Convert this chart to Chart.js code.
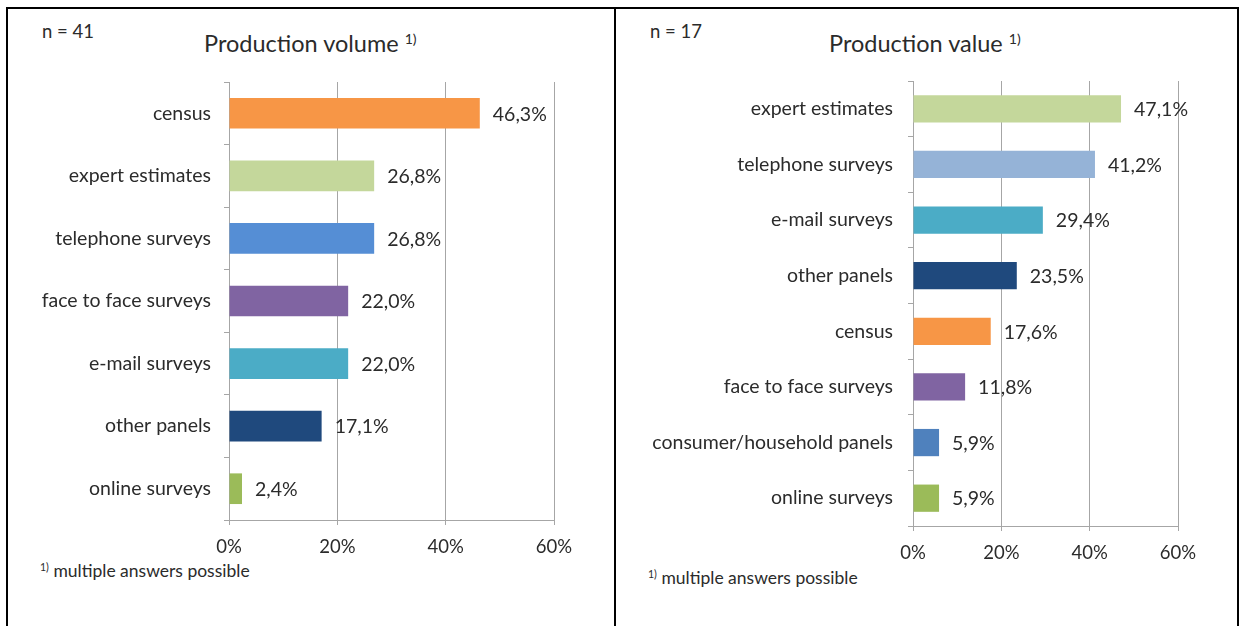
<!DOCTYPE html>
<html>
<head>
<meta charset="utf-8">
<script src="https://cdn.jsdelivr.net/npm/chart.js@4.4.1/dist/chart.umd.min.js"></script>
<style>
  html, body { margin: 0; padding: 0; background: #fff; }
  body { width: 1240px; height: 626px; position: relative; overflow: hidden; font-family: Lato, "Open Sans", sans-serif; color: #2b2b2b; }
  .line { position: absolute; background: #000; }
  .txt { position: absolute; white-space: nowrap; line-height: 1; }
  .txt sup { font-size: 0.6em; vertical-align: 0; position: relative; top: -0.55em; }
  .cw { position: absolute; }
</style>
</head>
<body>
<!-- frame -->
<div class="line" style="left:6px; top:7px; width:1233px; height:2px;"></div>
<div class="line" style="left:6px; top:7px; width:2px; height:619px;"></div>
<div class="line" style="left:614px; top:7px; width:2px; height:619px;"></div>
<div class="line" style="left:1237px; top:7px; width:2px; height:619px;"></div>

<div class="txt" id="nLeft" style="left:42px; top:22px; font-size:18.5px;"></div>
<div class="txt" id="titleLeft" style="left:204px; top:32px; font-size:23.5px;"></div>
<div class="txt" id="noteLeft" style="left:40px; top:562px; font-size:17.5px;"></div>

<div class="txt" id="nRight" style="left:650px; top:22px; font-size:18.5px;"></div>
<div class="txt" id="titleRight" style="left:829px; top:32px; font-size:23.5px;"></div>
<div class="txt" id="noteRight" style="left:648px; top:569px; font-size:17.5px;"></div>

<div class="cw" style="left:8px; top:9px; width:605px; height:617px;"><canvas id="chartLeft"></canvas></div>
<div class="cw" style="left:617px; top:9px; width:619px; height:617px;"><canvas id="chartRight"></canvas></div>

<script>
// left chart: production volume
const volumeLabels = ["census", "expert estimates", "telephone surveys", "face to face surveys", "e-mail surveys", "other panels", "online surveys"];
const volumeValues = [46.3, 26.8, 26.8, 22.0, 22.0, 17.1, 2.4];
const volumeColors = ["#F79646", "#C4D79B", "#558ED5", "#8064A2", "#4BACC6", "#1F497D", "#9BBB59"];

// right chart: production value
const valueLabels = ["expert estimates", "telephone surveys", "e-mail surveys", "other panels", "census", "face to face surveys", "consumer/household panels", "online surveys"];
const valueValues = [47.1, 41.2, 29.4, 23.5, 17.6, 11.8, 5.9, 5.9];
const valueColors = ["#C4D79B", "#95B3D7", "#4BACC6", "#1F497D", "#F79646", "#8064A2", "#4F81BD", "#9BBB59"];

const xTicks = [0, 20, 40, 60];

document.getElementById("nLeft").textContent = "n = 41";
document.getElementById("titleLeft").innerHTML = "Production volume <sup>1)</sup>";
document.getElementById("noteLeft").innerHTML = "<sup>1)</sup> multiple answers possible";
document.getElementById("nRight").textContent = "n = 17";
document.getElementById("titleRight").innerHTML = "Production value <sup>1)</sup>";
document.getElementById("noteRight").innerHTML = "<sup>1)</sup> multiple answers possible";

const FONT = "Lato, 'Open Sans', sans-serif";
const GRID = "#a6a6a6";
const TEXT = "#2b2b2b";

// percentage labels next to each bar
const barLabels = {
    id: "barLabels",
    afterDatasetsDraw(chart) {
        const ctx = chart.ctx;
        const meta = chart.getDatasetMeta(0);
        const data = chart.data.datasets[0].data;
        ctx.save();
        ctx.font = "19.5px " + FONT;
        ctx.fillStyle = TEXT;
        ctx.textBaseline = "middle";
        ctx.textAlign = "left";
        meta.data.forEach((bar, i) => {
            ctx.fillText(data[i].toFixed(1).replace(".", ",") + "%", bar.x + 13, bar.y + 1);
        });
        ctx.restore();
    }
};

function makeChart(id, labels, values, colors, opt) {
    return new Chart(document.getElementById(id), {
        type: "bar",
        data: {
            labels: labels,
            datasets: [{ data: values, backgroundColor: colors, barPercentage: opt.bar, categoryPercentage: 1 }]
        },
        options: {
            indexAxis: "y",
            responsive: true,
            maintainAspectRatio: false,
            animation: false,
            layout: { padding: { top: opt.top, right: opt.right, bottom: opt.bottom, left: 0 } },
            plugins: { legend: { display: false }, tooltip: { enabled: false } },
            scales: {
                x: {
                    min: 0, max: 60,
                    afterBuildTicks: (s) => { s.ticks = xTicks.map(v => ({ value: v })); },
                    afterFit: (s) => { s.height = 40; },
                    grid: { color: GRID, tickLength: 5, tickColor: GRID },
                    border: { color: GRID },
                    ticks: { padding: 11, color: TEXT, font: { family: FONT, size: 18.5 }, callback: (v) => v + "%" }
                },
                y: {
                    afterFit: (s) => { s.width = opt.left; },
                    grid: { drawOnChartArea: false, tickLength: 5, color: GRID },
                    border: { color: GRID },
                    ticks: { padding: opt.labelPad, color: TEXT, font: { family: FONT, size: 19.5 } }
                }
            }
        },
        plugins: [barLabels]
    });
}

makeChart("chartLeft", volumeLabels, volumeValues, volumeColors,
    { top: 73, right: 59, bottom: 66, left: 221, bar: 0.49, labelPad: 13 });
makeChart("chartRight", valueLabels, valueValues, valueColors,
    { top: 72, right: 58, bottom: 60, left: 296, bar: 0.49, labelPad: 15 });
</script>
</body>
</html>
